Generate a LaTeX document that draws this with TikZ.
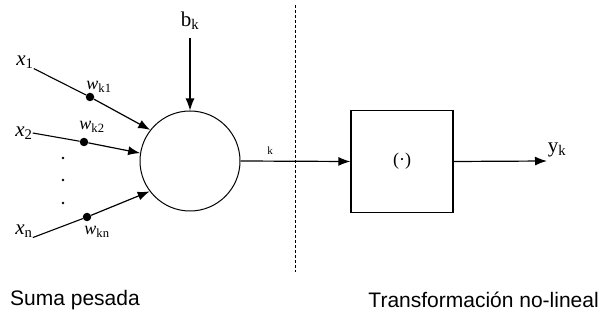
\documentclass[tikz,border=0pt]{standalone}
\usepackage{fontspec}
\setmainfont{Liberation Serif}
\setsansfont{Liberation Sans}
\usetikzlibrary{arrows.meta,positioning}

\tikzset{
  wdot/.style={circle,fill=black,inner sep=0pt,minimum size=8.5pt},
  lbl/.style={inner sep=0pt,font=\fontsize{21}{23}\selectfont},
  wlbl/.style={inner sep=0pt,font=\fontsize{18}{20}\selectfont},
  wire/.style={line width=1.1pt},
  sig/.style={line width=1.2pt,-{Latex[length=12pt,width=9pt]}},
  caption/.style={inner sep=0pt,font=\sffamily\fontsize{21}{23}\selectfont}
}

\begin{document}
\begin{tikzpicture}[x=1pt,y=-1pt]
  \useasboundingbox (0,0) rectangle (605,320);

  % Weighted sum
  \node[circle,draw,line width=1pt,minimum size=100pt,inner sep=0pt] (sum) at (190,161) {};
  \node[lbl] (bk) at (190,21) {b\textsubscript{k}};
  \draw[sig] ([yshift=-8pt]bk.south) -- (sum.north);

  % Inputs and weights
  \node[lbl] (x1) at (25,62) {\textit{x}\textsubscript{1}};
  \node[lbl] (x2) at (24,133) {\textit{x}\textsubscript{2}};
  \node[lbl] (xn) at (24,231) {\textit{x}\textsubscript{n}};
  \node[wdot] (w1) at (90,97) {};
  \node[wdot] (w2) at (84,142) {};
  \node[wdot] (wn) at (87,217) {};
  \node[wlbl] (wk1) at (99,87) {\textit{w}\textsubscript{k1}};
  \node[wlbl] (wk2) at (92,127) {\textit{w}\textsubscript{k2}};
  \node[wlbl] (wkn) at (97,232) {\textit{w}\textsubscript{kn}};
  \draw[wire] (x1.south east) -- (w1);
  \draw[wire] (x2.east) -- (w2);
  \draw[wire] (xn.south east) -- (wn);
  \draw[sig] (w1) -- (sum.142);
  \draw[sig] (w2) -- (sum.171);
  \draw[sig] (wn) -- (sum.217);
  \foreach \y in {158,180,203}
    \fill (63,\y) circle (1.4pt);

  % Divider
  \coordinate (divtop) at (295,5);
  \coordinate (divbot) at (295,272);
  \draw[dash pattern=on 3pt off 2pt,line width=1pt] (divtop) -- (divbot);

  % Non-linear transform
  \node[draw,line width=1.2pt,minimum size=102pt,inner sep=0pt] (phi) at (402,161.5)
    {\fontsize{18}{20}\selectfont(·)};
  \node[font=\fontsize{11}{12}\selectfont] (k) at (270,151) {k};
  \draw[sig] (sum.east) -- (phi.west);
  \coordinate (out) at (547,161);
  \node[lbl] (yk) at (557,150) {y\textsubscript{k}};
  \draw[sig] (phi.east) -- (out);

  % Captions
  \node[caption,anchor=west] (lefttxt) at (10,300) {Suma pesada};
  \node[caption,anchor=east] (righttxt) at (599,300) {Transformación no-lineal};
\end{tikzpicture}
\end{document}
